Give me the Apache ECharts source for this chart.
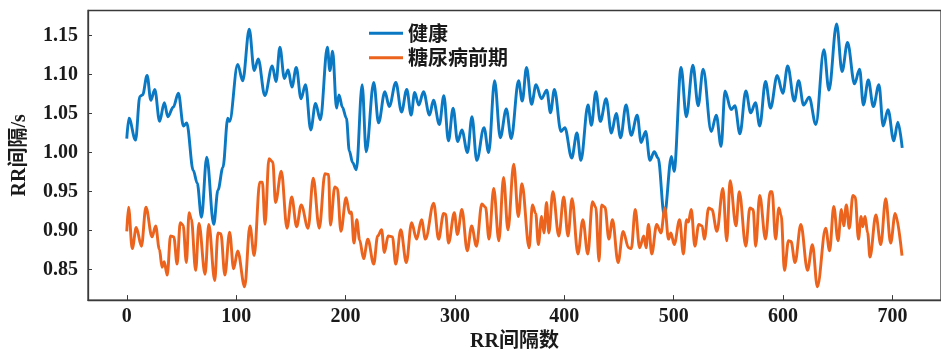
<!DOCTYPE html>
<html>
<head>
<meta charset="utf-8">
<script src="https://cdn.jsdelivr.net/npm/echarts@6/dist/echarts.min.js"></script>
<style>
  html, body { margin: 0; padding: 0; background: #fff; }
  #chart { width: 941px; height: 357px; }
</style>
</head>
<body>
<div id="chart"></div>
<script>
// RR interval series: [interval index, RR interval in seconds], sampled at turning points
const healthyRR = [
  [0,1.018],[2,1.044],[8,1.016],[12,1.072],[14.5,1.074],[18.6,1.099],[22,1.067],[25.6,1.081],[30,1.040],[34.3,1.064],
  [37.6,1.046],[42.4,1.058],[47.2,1.076],[51.8,1.034],[54.8,1.038],[60.8,0.977],[64.4,0.961],[68.3,0.917],[73.1,0.994],[79.5,0.908],
  [83.4,0.952],[87.9,0.981],[92.4,1.044],[94,1.040],[101.4,1.113],[106,1.092],[112,1.158],[116.5,1.105],[120.2,1.120],[126.2,1.073],
  [133,1.111],[136.5,1.091],[140,1.135],[144.1,1.095],[147.5,1.106],[151,1.084],[155,1.109],[159.3,1.069],[163.4,1.087],[168.2,1.029],
  [172.6,1.063],[177,1.042],[183.4,1.135],[185.7,1.105],[188.2,1.130],[191.8,1.057],[194,1.074],[197.2,1.058],[200.8,1.044],[203.5,1.002],
  [206.5,0.987],[209.9,0.978],[215.2,1.087],[218.9,1.001],[225.8,1.090],[230.2,1.038],[236,1.078],[240,1.059],[246,1.090],[251.2,1.052],
  [256,1.081],[260,1.048],[263.2,1.077],[267,1.061],[271.3,1.078],[276.8,1.048],[280.4,1.067],[285.8,1.036],[289.9,1.073],[294.1,1.015],
  [298.4,1.057],[302.5,1.014],[306.4,1.029],[311.5,1.000],[315.6,1.046],[320,0.990],[326.6,1.032],[330.9,1.000],[336.3,1.092],[341.5,1.019],
  [347,1.056],[351.5,1.018],[358.2,1.092],[361.6,1.066],[365.5,1.109],[370.1,1.062],[374.2,1.087],[379.1,1.069],[384,1.080],[387.4,1.051],
  [391,1.081],[397,1.027],[400.5,1.032],[406.8,0.993],[411.6,1.025],[415.2,0.990],[421.7,1.061],[424.8,1.035],[428.9,1.078],[433,1.040],
  [438.3,1.069],[443.1,1.025],[447.5,1.050],[451.5,1.019],[456.5,1.061],[461.2,1.022],[466.7,1.048],[470.3,1.013],[474.4,1.027],[478.3,0.990],
  [482.3,1.001],[485.8,0.993],[491.5,0.919],[498,0.995],[500.4,0.976],[506.8,1.109],[511.6,1.046],[517.6,1.112],[522.4,1.060],[527,1.107],
  [534.4,1.027],[539,1.048],[543.4,1.008],[547,1.079],[552.5,1.055],[556,1.060],[560.6,1.024],[566,1.079],[570.5,1.051],[574.8,1.064],
  [578.7,1.034],[584,1.091],[588.6,1.057],[594.7,1.099],[599.8,1.076],[604.3,1.111],[610.3,1.066],[614.3,1.092],[618.8,1.061],[623.9,1.071],
  [630,1.036],[637.4,1.132],[642,1.080],[649,1.165],[654,1.104],[659,1.141],[665.4,1.088],[670,1.107],[673.5,1.061],[678,1.093],
  [682.6,1.059],[687.7,1.087],[691.6,1.034],[696,1.055],[701.3,1.015],[705,1.039],[709,1.006]
];

const prediabetesRR = [
  [0,0.899],[1.6,0.930],[5,0.877],[8.7,0.904],[13.4,0.880],[17.5,0.930],[23.1,0.892],[26.4,0.906],[29.8,0.876],[32.3,0.853],
  [34.2,0.860],[37,0.843],[40,0.893],[43,0.892],[46,0.857],[48.9,0.910],[51.5,0.907],[54.5,0.859],[57,0.923],[59,0.915],
  [63,0.849],[66,0.909],[71.6,0.844],[75,0.908],[80.4,0.836],[83.4,0.897],[86,0.896],[89.7,0.843],[94,0.898],[97.7,0.851],
  [101.4,0.874],[107.8,0.828],[112.6,0.906],[116.5,0.868],[121.6,0.962],[124,0.962],[126.4,0.908],[130,0.992],[133.5,0.988],[136,0.936],
  [141.3,0.976],[146.5,0.903],[150.8,0.943],[155.3,0.905],[159.5,0.933],[165.8,0.903],[170.5,0.967],[176,0.903],[181.2,0.973],[184.5,0.972],
  [186.2,0.907],[190.2,0.956],[192.5,0.954],[195.8,0.899],[200.5,0.942],[203.8,0.922],[205.3,0.924],[207.7,0.884],[210.3,0.914],[212.9,0.888],
  [216.5,0.864],[220.4,0.889],[225.8,0.857],[229.4,0.893],[233,0.901],[235.5,0.872],[239,0.893],[242.9,0.892],[245.9,0.857],[250.5,0.901],
  [255.6,0.859],[260.4,0.910],[265,0.889],[269.5,0.914],[273.1,0.889],[280.6,0.935],[285.1,0.889],[289.7,0.922],[291.5,0.921],[294.2,0.884],
  [299.5,0.923],[302.3,0.895],[306.4,0.927],[311.3,0.874],[315.3,0.906],[319.7,0.880],[324.6,0.934],[328,0.930],[331.2,0.889],[335.5,0.954],
  [340.2,0.887],[344.5,0.968],[348.5,0.901],[353.8,0.985],[358,0.918],[361.3,0.960],[367.9,0.878],[370.9,0.933],[373.9,0.922],[376.3,0.882],
  [379.3,0.918],[381.4,0.897],[383.8,0.936],[385.9,0.897],[389.6,0.950],[395,0.893],[399.5,0.943],[403.4,0.893],[407.1,0.941],[412.5,0.870],
  [417,0.914],[421.5,0.870],[425.8,0.937],[428.8,0.930],[431.8,0.861],[434.1,0.933],[437.2,0.930],[440.8,0.889],[444.1,0.914],[449.2,0.859],
  [453.8,0.899],[458.8,0.878],[461.3,0.877],[464.9,0.927],[468.9,0.878],[472.7,0.893],[474.8,0.878],[477,0.908],[480,0.870],[484.5,0.908],
  [488.4,0.897],[492,0.929],[495.3,0.889],[497.5,0.897],[500.5,0.882],[505.5,0.914],[508.9,0.870],[511.8,0.914],[513.5,0.911],[516.1,0.927],
  [519.4,0.880],[523,0.908],[526,0.906],[528.1,0.889],[532,0.929],[535,0.927],[539.6,0.899],[545,0.954],[548.6,0.887],[551.6,0.964],
  [557,0.906],[560,0.950],[566,0.880],[569.7,0.929],[572.7,0.927],[575,0.880],[578.7,0.945],[584,0.889],[588.3,0.950],[590,0.950],
  [593.2,0.889],[596.2,0.929],[598.3,0.920],[601.3,0.849],[605,0.887],[607.3,0.886],[611,0.859],[616.3,0.908],[622.4,0.849],[626.9,0.882],
  [631.4,0.828],[639,0.903],[642.6,0.874],[646.4,0.931],[650.3,0.887],[653.4,0.927],[655.5,0.906],[657.9,0.933],[660.6,0.903],[663.9,0.945],
  [666,0.943],[669,0.889],[671.4,0.918],[672.9,0.905],[675,0.918],[677.4,0.897],[679.5,0.866],[684.9,0.920],[689.4,0.882],[693.9,0.941],
  [698.4,0.884],[702.6,0.922],[708.8,0.868]
];

const seriesNames = ['健康', '糖尿病前期'];
const seriesColors = ['#0A78C2', '#EB631C'];
const xTicks = [0, 100, 200, 300, 400, 500, 600, 700];
const yTicks = [0.85, 0.90, 0.95, 1.00, 1.05, 1.10, 1.15];

const serifFont = "'Liberation Serif', 'Noto Sans CJK SC', serif";
const cjkFont = "'Noto Sans CJK SC', 'Liberation Serif', sans-serif";
const inkColor = '#1a1a1a';
const frameColor = '#3a3a3a';

const chart = echarts.init(document.getElementById('chart'), null, { renderer: 'canvas' });

const lineSeries = [healthyRR, prediabetesRR].map((pts, i) => ({
  name: seriesNames[i],
  type: 'line',
  data: pts,
  showSymbol: false,
  symbol: 'none',
  smooth: 0.35,
  smoothMonotone: 'x',
  lineStyle: { color: seriesColors[i], width: 2.9 },
  itemStyle: { color: seriesColors[i] },
  z: 2 + i,
  animation: false
}));

chart.setOption({
  animation: false,
  backgroundColor: '#ffffff',
  grid: {
    left: 88, top: 10.5, right: -11, bottom: 52,
    show: true, borderColor: frameColor, borderWidth: 1.3, backgroundColor: 'transparent'
  },
  legend: {
    data: seriesNames,
    orient: 'vertical',
    left: 364, top: 18.3,
    itemWidth: 34, itemHeight: 3, itemGap: 4.4,
    icon: 'path://M0,0 L34,0 L34,3 L0,3 Z',
    textStyle: { fontFamily: cjkFont, fontSize: 20, fontWeight: 'bold', color: inkColor, lineHeight: 20 }
  },
  xAxis: {
    type: 'value',
    min: -35.45, max: 744.45,
    name: 'RR间隔数',
    nameLocation: 'middle',
    nameGap: 31,
    nameTextStyle: { fontFamily: serifFont, fontSize: 20, fontWeight: 'bold', color: inkColor },
    axisLine: { show: true, onZero: false, lineStyle: { color: frameColor, width: 1.3 } },
    axisTick: { show: true, inside: true, length: 5, customValues: xTicks, lineStyle: { color: frameColor, width: 1 } },
    axisLabel: {
      customValues: xTicks, margin: 7,
      fontFamily: serifFont, fontSize: 20, fontWeight: 'bold', color: inkColor
    },
    splitLine: { show: false }
  },
  yAxis: {
    type: 'value',
    min: 0.8109, max: 1.1821,
    name: 'RR间隔/s',
    nameLocation: 'middle',
    nameRotate: 90,
    nameGap: 58,
    nameTextStyle: { fontFamily: serifFont, fontSize: 20, fontWeight: 'bold', color: inkColor },
    axisLine: { show: true, onZero: false, lineStyle: { color: frameColor, width: 1.3 } },
    axisTick: { show: true, inside: true, length: 4, customValues: yTicks, lineStyle: { color: frameColor, width: 1 } },
    axisLabel: {
      customValues: yTicks, margin: 10,
      formatter: v => v.toFixed(2),
      fontFamily: serifFont, fontSize: 20, fontWeight: 'bold', color: inkColor
    },
    splitLine: { show: false }
  },
  series: lineSeries
});
</script>
</body>
</html>
